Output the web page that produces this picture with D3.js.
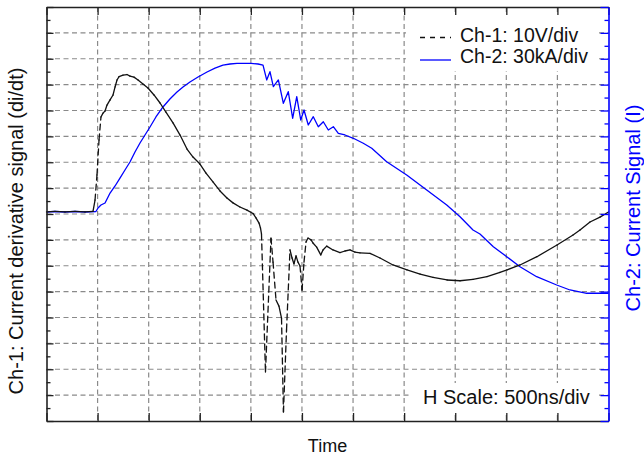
<!DOCTYPE html>
<html><head><meta charset="utf-8">
<script src="https://cdn.jsdelivr.net/npm/d3@7"></script>
<style>
body{margin:0;background:#fff}
svg{display:block}
text{font-family:"Liberation Sans",Arial,Helvetica,sans-serif}
</style>
</head><body>
<svg id="c" width="644" height="459"></svg>
<script>
// ---- data (time in ns, Ch-1 in V, Ch-2 in kA) ----
const ch1Time = [0,83,181,279,377,455,475,494,514,533,553,573,592,622,651,671,690,710,749,788,817,856,896,944,993,1052,1111,1169,1238,1307,1375,1434,1502,1561,1629,1698,1766,1825,1893,1962,2021,2050,2080,2094,2104,2143,2197,2217,2246,2275,2300,2319,2349,2383,2403,2422,2442,2461,2481,2501,2520,2540,2559,2589,2608,2644,2684,2706,2742,2804,2872,2921,2970,3019,3068,3166,3264,3391,3528,3656,3783,3920,4047,4174,4311,4438,4507,4634,4800,4996,5153,5221,5319,5417,5500];
const ch1Volt = [0.8,1.0,0.8,1.0,0.8,1.0,5.4,15.1,28.6,37.5,39.0,39.8,42.1,44.1,46.0,49.1,51.8,53.1,53.7,53.9,53.3,52.9,51.8,50.2,48.7,46.0,42.9,39.4,35.2,30.5,25.1,22.0,19.3,15.8,12.4,8.9,6.2,4.3,2.7,1.5,0.2,-1.5,-3.5,-5.4,-7.7,-61.1,-9.3,-18.6,-33.2,-35.6,-40.2,-76.5,-44.8,-13.9,-17.0,-19.3,-16.2,-18.6,-20.1,-29.4,-18.6,-10.8,-9.3,-10.0,-11.2,-12.8,-15.8,-13.9,-12.4,-13.9,-14.9,-14.3,-13.9,-14.7,-15.0,-15.2,-17.0,-19.7,-21.6,-23.2,-24.5,-25.5,-25.8,-25.3,-24.2,-22.6,-21.6,-19.7,-16.5,-12.0,-8.1,-6.2,-3.1,-1.2,0.8];
const ch2Time = [0,83,181,279,377,484,504,533,573,622,671,719,768,817,866,915,964,1013,1071,1140,1208,1277,1336,1404,1483,1571,1649,1727,1796,1864,1943,2002,2070,2119,2155,2187,2220,2269,2318,2366,2409,2449,2488,2520,2562,2611,2660,2709,2758,2807,2856,2921,3003,3100,3183,3329,3525,3721,3917,4047,4174,4242,4373,4504,4634,4797,4993,5123,5287,5417,5500];
const ch2Current = [2.3,2.9,2.3,2.9,2.3,2.9,7.0,10.4,12.8,24.3,32.5,41.7,51.0,60.3,71.9,82.3,91.6,100.9,112.5,124.1,133.3,141.4,147.2,153.0,158.8,164.6,169.2,172.7,173.9,174.7,174.7,174.7,173.9,172.7,155.4,165.0,147.6,155.4,128.3,141.8,111.0,136.0,109.0,120.6,103.2,112.8,101.2,107.0,97.4,101.2,93.6,91.6,87.8,82.0,76.2,60.6,45.2,27.8,10.4,-3.1,-18.6,-23.2,-37.9,-49.5,-61.1,-72.7,-82.3,-88.1,-91.9,-91.9,-91.9];

const timeDomain = [0, 5500];
const voltDomain = [-80, 80];
const currentDomain = [-240, 240];
const timeStep = 500;   // ns per division
const voltStep = 10;    // V per division
const currentStep = 30; // kA per division

const legendLabels = ["Ch-1: 10V/div", "Ch-2: 30kA/div"];
const hScaleLabel = "H Scale: 500ns/div";
const xTitle = "Time";
const y1Title = "Ch-1: Current derivative signal (di/dt)";
const y2Title = "Ch-2: Current Signal (I)";

// ---- layout ----
const svg = d3.select("#c");
const L = 46.5, R = 608.5, T = 7, B = 421;
const BLUE = "#0000ff";
const x = d3.scaleLinear().domain(timeDomain).range([L, R]);
const y1 = d3.scaleLinear().domain(voltDomain).range([B, T]);
const y2 = d3.scaleLinear().domain(currentDomain).range([B, T]);

const xTicks = d3.range(timeDomain[0], timeDomain[1] + 1, timeStep);
const y1Major = d3.range(voltDomain[0], voltDomain[1] + 0.1, voltStep);
const y1Minor = d3.range(voltDomain[0] + voltStep / 2, voltDomain[1], voltStep);
const y2Major = d3.range(currentDomain[0], currentDomain[1] + 0.1, currentStep);
const y2Minor = d3.range(currentDomain[0] + currentStep / 2, currentDomain[1], currentStep);

// grid
const grid = svg.append("g").attr("stroke", "#8a8a8a").attr("stroke-width", 1.2).attr("stroke-dasharray", "5,3.5");
grid.selectAll("line.v").data(xTicks.slice(1, -1)).join("line")
  .attr("x1", d => x(d)).attr("x2", d => x(d)).attr("y1", T).attr("y2", B);
grid.selectAll("line.h").data(y1Major.slice(1, -1)).join("line")
  .attr("x1", L).attr("x2", R).attr("y1", d => y1(d)).attr("y2", d => y1(d));

// white boxes behind legend and scale note
svg.append("rect").attr("x", 406).attr("y", 15).attr("width", 192).attr("height", 56).attr("fill", "#fff");
svg.append("rect").attr("x", 412).attr("y", 383).attr("width", 186).attr("height", 30).attr("fill", "#fff");

// Ch-2 line (blue)
const ch2 = ch2Time.map((t, i) => [t, ch2Current[i]]);
svg.append("path").datum(ch2)
  .attr("fill", "none").attr("stroke", BLUE).attr("stroke-width", 1.3).attr("stroke-linejoin", "round")
  .attr("d", d3.line().x(d => x(d[0])).y(d => y2(d[1])));

// Ch-1 line (black, dash style restarting on every segment; shows on steep jumps)
const ch1 = ch1Time.map((t, i) => [t, ch1Volt[i]]);
const segs = d3.pairs(ch1);
svg.append("g").selectAll("line").data(segs).join("line")
  .attr("x1", d => x(d[0][0])).attr("y1", d => y1(d[0][1]))
  .attr("x2", d => x(d[1][0])).attr("y2", d => y1(d[1][1]))
  .attr("stroke", "#111").attr("stroke-width", 1.3).attr("stroke-linecap", "round")
  .attr("stroke-dasharray", d => {
    const dy = Math.abs(y1(d[1][1]) - y1(d[0][1]));
    return dy > 18 ? "6,4" : null;
  });

// axes
function styleAxis(g, color, w) {
  g.selectAll("path.domain").attr("stroke", color).attr("stroke-width", w);
  g.selectAll(".tick line").attr("stroke", color).attr("stroke-width", 1.3);
  g.selectAll(".tick text").remove();
}
svg.append("g").attr("transform", `translate(0,${B})`)
  .call(d3.axisBottom(x).tickValues(xTicks).tickSize(-8).tickSizeOuter(0).tickFormat(""))
  .call(g => styleAxis(g, "#222", 1.6));
svg.append("g").attr("transform", `translate(0,${T})`)
  .call(d3.axisTop(x).tickValues(xTicks).tickSize(-8).tickSizeOuter(0).tickFormat(""))
  .call(g => styleAxis(g, "#222", 1.6));
svg.append("g").attr("transform", `translate(${L},0)`)
  .call(d3.axisLeft(y1).tickValues(y1Major).tickSize(-7).tickSizeOuter(0).tickFormat(""))
  .call(g => styleAxis(g, "#222", 1.6));
svg.append("g").attr("transform", `translate(${L},0)`)
  .call(d3.axisLeft(y1).tickValues(y1Minor).tickSize(-4).tickSizeOuter(0).tickFormat(""))
  .call(g => { g.select("path.domain").remove(); styleAxis(g, "#222", 1.6); });
svg.append("g").attr("transform", `translate(${R},0)`)
  .call(d3.axisRight(y2).tickValues(y2Major).tickSize(-8).tickSizeOuter(0).tickFormat(""))
  .call(g => styleAxis(g, BLUE, 1.6));
svg.append("g").attr("transform", `translate(${R},0)`)
  .call(d3.axisRight(y2).tickValues(y2Minor).tickSize(-4).tickSizeOuter(0).tickFormat(""))
  .call(g => { g.select("path.domain").remove(); styleAxis(g, BLUE, 1.6); });

// legend
svg.append("line").attr("x1", 420).attr("x2", 451).attr("y1", 37.5).attr("y2", 37.5)
  .attr("stroke", "#111").attr("stroke-width", 1.3).attr("stroke-dasharray", "5,5");
svg.append("line").attr("x1", 420).attr("x2", 451).attr("y1", 60).attr("y2", 60)
  .attr("stroke", BLUE).attr("stroke-width", 1.3);
svg.append("text").attr("x", 460).attr("y", 41.5).attr("font-size", 19.5).attr("fill", "#111").text(legendLabels[0]);
svg.append("text").attr("x", 460).attr("y", 62.5).attr("font-size", 19.5).attr("fill", "#111").text(legendLabels[1]);

// scale note
svg.append("text").attr("x", 423).attr("y", 404).attr("font-size", 20).attr("fill", "#111").text(hScaleLabel);

// titles
svg.append("text").attr("x", 327.5).attr("y", 452).attr("text-anchor", "middle").attr("font-size", 18).attr("fill", "#111").text(xTitle);
svg.append("text").attr("transform", "translate(23,231) rotate(-90)").attr("text-anchor", "middle")
  .attr("font-size", 20).attr("fill", "#111").text(y1Title);
svg.append("text").attr("transform", "translate(640,208) rotate(-90)").attr("text-anchor", "middle")
  .attr("font-size", 20).attr("fill", BLUE).text(y2Title);
</script>
</body></html>
